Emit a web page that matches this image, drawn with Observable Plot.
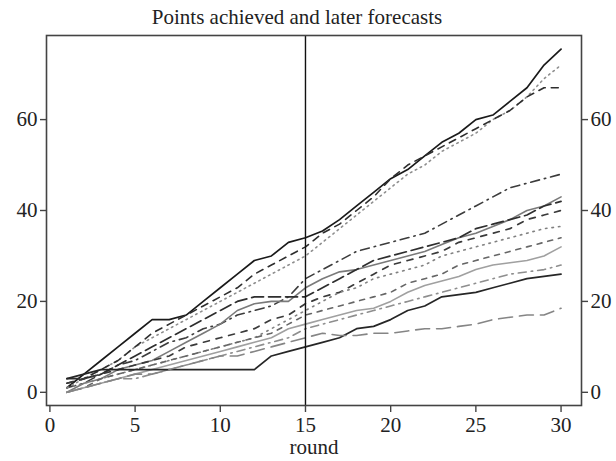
<!DOCTYPE html>
<html><head><meta charset="utf-8">
<script src="https://cdn.jsdelivr.net/npm/d3@7"></script>
<script src="https://cdn.jsdelivr.net/npm/@observablehq/plot@0.6"></script>
<style>body{margin:0;background:#fff} svg{display:block}</style>
</head><body><div id="chart"></div>
<script>
const titleText = "Points achieved and later forecasts";
const xLabel = "round";
const rounds = d3.range(1, 31);
const xTicks = [0, 5, 10, 15, 20, 25, 30];
const yTicks = [0, 20, 40, 60];
const splitRound = [15];

const seriesA = [1,4,7,10,13,16,16,17,20,23,26,29,30,33,34,35.5,38,41,44,47,49,52,55,57,60,61,64,67,72,75.5];
const seriesF = [1,3,5,7,10,12,14,16,18,20,22,24,26,28,30,33,36,39,42,45,48,50,53,55,57,60,62,65,69,72];
const seriesE = [2,3,5,7,10,13,15,17,19,21,23,26,28,30,32,35,37,40,43,47,50,52,54,56,58,60,62,65,67,67];
const seriesG = [1,2,4,6,7,9,11,12,14,15,17,18,19,21,25,27,29,31,32,33,34,35,37,39,41,43,45,46,47,48];
const seriesD = [0,2,3,5,6,7,9,11,13,15,18,19.5,20,20,23,25,26.5,27,28,29,30,31,32.5,34,35,36.5,38,40,41,43];
const seriesH = [3,3,4,6,8,10,12,14,16,18,20,21,21,21,21,23,25,27,29,30,31,32,33,34,36,37,38,39,41,42];
const seriesI = [2,3,4,5,6,7,8,10,11,12,13,14,16,17,19.5,21,22,24,26,28,29,30,31,33,34,35,36,38,39,40];
const seriesJ = [1,2,3,4,5,6,7,8,9,10,11,12,14,16,18,20,22,23,25,26,27,28,30,31,32,33,34,35,36,36.5];
const seriesK = [0,1,3,4,5,6,7,8,9,10,11,12,13,15,17,18,19,20,21,22,24,25,26,28,29,30,31,32,33,34];
const seriesC = [0,1,2,3,4,5,6,7,8,9,10,11,12,14,15,16,17,18,18.5,20,22,23.5,24.5,25.5,27,28,28.5,29,30,32];
const seriesM = [0,1,2,3,3,4,5,6,7,8,9,10,11,12,14,15,16,17,18,19,20,21,22,23,24,25,26,26.5,27,28];
const seriesB = [3,4,5,5,5,5,5,5,5,5,5,5,8,9,10,11,12,14,14.5,16,18,19,21,21.5,22,23,24,25,25.5,26];
const seriesL = [0,1,2,3,4,4,5,6,7,8,8,9,10,11,12,13,12.5,12.5,13,13,13.5,14,14,14.5,15,16,16.5,17,17,18.5];

const seriesValues = {A: seriesA, F: seriesF, E: seriesE, G: seriesG, D: seriesD, H: seriesH, I: seriesI,
  J: seriesJ, K: seriesK, C: seriesC, M: seriesM, B: seriesB, L: seriesL};

// styles (kept separate from data)
const styles = {
  A: {stroke: "#1a1a1a", dash: null, w: 1.7},
  F: {stroke: "#8e8e8e", dash: "1.5,4", w: 1.6},
  E: {stroke: "#2e2e2e", dash: "7,6", w: 1.6},
  G: {stroke: "#3c3c3c", dash: "9,5,1.5,5", w: 1.6},
  D: {stroke: "#7a7a7a", dash: null, w: 1.6},
  H: {stroke: "#2e2e2e", dash: "12,5", w: 1.7},
  I: {stroke: "#3a3a3a", dash: "6,7", w: 1.7},
  J: {stroke: "#808080", dash: "1.5,5", w: 1.6},
  K: {stroke: "#666", dash: "5,6", w: 1.6},
  C: {stroke: "#a0a0a0", dash: null, w: 1.6},
  M: {stroke: "#8e8e8e", dash: "8,5,1.5,5", w: 1.6},
  B: {stroke: "#262626", dash: null, w: 1.7},
  L: {stroke: "#858585", dash: "14,7", w: 1.6}
};

const marks = [];
for (const [key, vals] of Object.entries(seriesValues)) {
  const rows = rounds.map((r, i) => ({round: r, value: vals[i]}));
  const s = styles[key];
  marks.push(Plot.line(rows, {x: "round", y: "value", stroke: s.stroke, strokeWidth: s.w,
    strokeDasharray: s.dash ?? undefined, curve: "linear"}));
}

const chart = Plot.plot({
  width: 616,
  height: 461,
  marginLeft: 46,
  marginRight: 35,
  marginTop: 35,
  marginBottom: 56,
  style: {fontFamily: "'Liberation Serif', 'Times New Roman', serif", fontSize: "21px", background: "#fff", color: "#222"},
  x: {domain: [-0.2, 31.2]},
  y: {domain: [-2.9, 78.5]},
  marks: [
    ...marks,
    Plot.ruleX(splitRound, {stroke: "#111", strokeWidth: 1.4}),
    Plot.frame({stroke: "#444", strokeWidth: 1.6}),
    Plot.axisY(yTicks, {anchor: "left", tickSize: 6, tickPadding: 3, fontSize: 21, label: null, stroke: "#444", strokeWidth: 1.4}),
    Plot.axisY(yTicks, {anchor: "right", tickSize: 6, tickPadding: 3, fontSize: 21, label: null, stroke: "#444", strokeWidth: 1.4}),
    Plot.axisX(xTicks, {anchor: "bottom", tickSize: 7, tickPadding: 5, fontSize: 21, label: null, stroke: "#444", strokeWidth: 1.4}),
    Plot.text([xLabel], {text: d => d, frameAnchor: "bottom", dy: 42, lineAnchor: "middle", fontSize: 21, fill: "#222"}),
    Plot.text([titleText], {text: d => d, frameAnchor: "top", dy: -18, dx: -17, lineAnchor: "middle", fontSize: 21, fill: "#222"})
  ]
});
document.getElementById("chart").appendChild(chart);
</script>
</body></html>
